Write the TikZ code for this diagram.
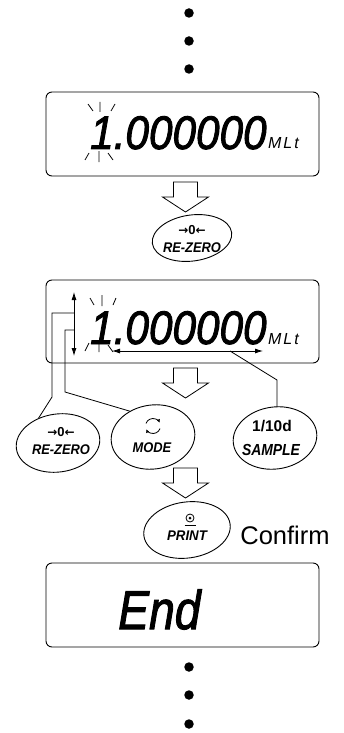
\documentclass[tikz,border=0pt]{standalone}
\usepackage{fontspec}
\setmainfont{Liberation Sans}
\newfontfamily\djv{DejaVu Sans}
\usetikzlibrary{shapes.geometric,arrows.meta}
\begin{document}
\begin{tikzpicture}[x=1pt,y=-1pt,
  lcd/.style={draw, line width=0.9pt, rounded corners=6pt, inner sep=0pt, minimum width=273pt},
  btn/.style={ellipse, draw, line width=0.9pt, inner sep=0pt, rotate=8},
  blab/.style={inner sep=0pt, font=\fontsize{14}{14}\selectfont\bfseries\itshape},
  zlab/.style={inner sep=0pt, font=\fontsize{13}{13}\selectfont\bfseries},
  dot/.style={circle, fill, inner sep=0pt, minimum size=9.5pt},
  conn/.style={line width=0.8pt},
  tick/.style={line width=0.8pt},
  dbl/.style={line width=0.8pt, {Latex[length=8pt,width=5pt]}-{Latex[length=8pt,width=5pt]}},
  seg/.style={inner sep=0pt, anchor=base west, font=\fontsize{47}{47}\selectfont\itshape\addfontfeature{FakeBold=2}},
  unit/.style={inner sep=0pt, anchor=base west, font=\fontsize{16}{16}\selectfont\itshape\addfontfeature{LetterSpace=12}},
  downarr/.pic={\draw[line width=0.8pt, fill=white] (-12,-30) -- (12,-30) -- (12,-15) -- (23,-15) -- (0,0) -- (-23,-15) -- (-12,-15) -- cycle;}
]
\newcommand{\zarrows}{{\djv\bfseries\fontsize{12}{12}\selectfont→}0{\djv\bfseries\fontsize{12}{12}\selectfont←}}
\useasboundingbox (0,0) rectangle (344,733);
% top dots
\node[dot] (t1) at (189,13) {};
\node[dot] (t2) at (189,41) {};
\node[dot] (t3) at (189,69) {};
% display 1
\node[lcd, minimum height=84pt] (d1) at (182.5,134) {};
\node[seg] (n1) at (90,149) {\scalebox{0.9}[1]{1.000000}};
\node[unit] (u1) at (268,148) {MLt};
\draw[tick] (88,104) -- (93,111) (100,102) -- (100,112) (115,104) -- (111,111);
\draw[tick] (85,160) -- (89,153) (99,151) -- (99,162) (108,153) -- (113,160);
% arrow 1
\pic at (185.5,212) {downarr};
% RE-ZERO key
\node[btn, minimum width=80pt, minimum height=46pt] (rz1) at (192,238) {};
\node[zlab] (rz1a) at (192,230) {\zarrows};
\node[blab] (rz1b) at (192,248) {\scalebox{0.92}[1]{RE-ZERO}};
% display 2
\node[lcd, minimum height=83pt] (d2) at (182.5,321.5) {};
\node[seg] (n2) at (90,344) {\scalebox{0.9}[1]{1.000000}};
\node[unit] (u2) at (268,344) {MLt};
\draw[tick] (90,298) -- (94,305) (102,295) -- (102,306) (116,298) -- (113,305);
\draw[tick] (85,351) -- (89,343) (99,342) -- (99,352) (108,345) -- (113,352);
\coordinate (va) at (74,292);
\coordinate (vb) at (74,356);
\draw[dbl] (va) -- (vb);
\coordinate (ha) at (112,351);
\coordinate (hb) at (263,351);
\draw[dbl] (ha) -- (hb);
% arrow 2
\pic at (185.5,398) {downarr};
% key row
\node[btn, minimum width=84pt, minimum height=58pt] (rz2) at (58,443) {};
\node[zlab] (rz2a) at (61,432) {\zarrows};
\node[blab] (rz2b) at (61,450) {\scalebox{0.92}[1]{RE-ZERO}};
\node[btn, minimum width=84pt, minimum height=64pt] (mode) at (153,437) {};
\draw[line width=0.8pt, -{Latex[length=3.5pt,width=3.5pt]}] (153,426) ++(200:7.5) arc[start angle=200, end angle=335, radius=7.5];
\draw[line width=0.8pt, -{Latex[length=3.5pt,width=3.5pt]}] (153,426) ++(20:7.5) arc[start angle=20, end angle=155, radius=7.5];
\node[blab] (modet) at (152,448) {\scalebox{0.92}[1]{MODE}};
\node[btn, minimum width=84pt, minimum height=62pt] (smp) at (275,438) {};
\node[inner sep=0pt, font=\fontsize{15.5}{15.5}\selectfont\bfseries] (smpa) at (272,426) {1/10d};
\node[inner sep=0pt, font=\fontsize{16}{16}\selectfont\bfseries\itshape] (smpb) at (271,450) {\scalebox{0.87}[1]{SAMPLE}};
% connectors
\coordinate (j1) at (74,313);
\coordinate (j2) at (74,330);
\coordinate (j3) at (230,351);
\coordinate (k3) at (277,380);
\draw[conn] (j1) -- ++(-22,0) -- ++(0,84) -- (rz2.120);
\draw[conn] (j2) -- ++(-9,0) -- ++(0,62) -- (mode.124);
\draw[conn] (j3) -- (k3) -- (k3 |- smp.north);
% arrow 3
\pic at (185.5,498) {downarr};
% PRINT key
\node[btn, minimum width=87pt, minimum height=56pt] (prt) at (187,530) {};
\draw[line width=0.8pt] (190,518) circle[radius=4];
\fill (190,518) circle[radius=1.5];
\draw[line width=0.8pt] (184.5,525) -- (195.5,525);
\node[blab] (prtt) at (187,536) {\scalebox{0.95}[1]{PRINT}};
\node[inner sep=0pt, font=\fontsize{25.5}{25.5}\selectfont] (conf) at (285,535) {Confirm};
% End display
\node[lcd, minimum height=84pt] (d3) at (182.5,605) {};
\node[inner sep=0pt, anchor=base west, font=\fontsize{54.5}{54.5}\selectfont\itshape\addfontfeature{FakeBold=2}] (endt) at (118,629) {\scalebox{0.85}[1]{End}};
% bottom dots
\node[dot] (b1) at (189,667) {};
\node[dot] (b2) at (189,695) {};
\node[dot] (b3) at (189,724) {};
\end{tikzpicture}
\end{document}
